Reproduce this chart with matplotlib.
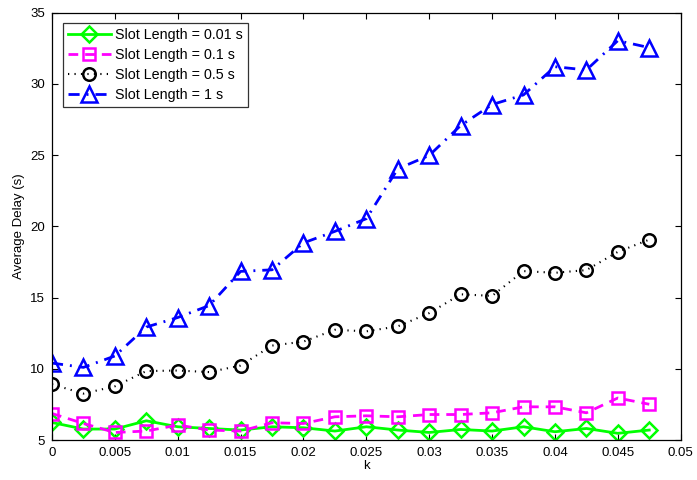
import numpy as np
import matplotlib
matplotlib.use("Agg")
import matplotlib.pyplot as plt

plt.rcParams['font.family'] = ['Liberation Sans', 'DejaVu Sans']

k = [0, 0.0025, 0.005, 0.0075, 0.01, 0.0125, 0.015, 0.0175, 0.02, 0.0225,
     0.025, 0.0275, 0.03, 0.0325, 0.035, 0.0375, 0.04, 0.0425, 0.045, 0.0475]

delay_001 = [6.23, 5.77, 5.77, 6.35, 5.93, 5.81, 5.70, 5.93, 5.86, 5.63,
             5.93, 5.70, 5.53, 5.74, 5.63, 5.93, 5.58, 5.81, 5.47, 5.70]
delay_01 = [6.86, 6.16, 5.53, 5.63, 6.05, 5.70, 5.63, 6.21, 6.16, 6.63,
            6.70, 6.63, 6.79, 6.79, 6.91, 7.33, 7.33, 6.91, 7.95, 7.51]
delay_05 = [8.91, 8.26, 8.77, 9.84, 9.88, 9.77, 10.23, 11.63, 11.91, 12.74,
            12.63, 12.98, 13.91, 15.23, 15.12, 16.86, 16.74, 16.93, 18.21, 19.07]
delay_1 = [10.4, 10.1, 10.9, 12.93, 13.6, 14.44, 16.84, 16.95, 18.84, 19.65,
           20.54, 24.04, 24.98, 27.08, 28.55, 29.23, 31.21, 30.98, 33.04, 32.55]

labels = ['Slot Length = 0.01 s', 'Slot Length = 0.1 s',
          'Slot Length = 0.5 s', 'Slot Length = 1 s']

xticks = [0, 0.005, 0.01, 0.015, 0.02, 0.025, 0.03, 0.035, 0.04, 0.045, 0.05]
xticklabels = ['0', '0.005', '0.01', '0.015', '0.02', '0.025', '0.03',
               '0.035', '0.04', '0.045', '0.05']
yticks = [5, 10, 15, 20, 25, 30, 35]

fig = plt.figure(figsize=(6.97, 4.8), dpi=100)
ax = fig.add_axes([0.0746, 0.0833, 0.902, 0.8902])

common = dict(markerfacecolor='none', markeredgewidth=1.8)
ax.plot(k, delay_001, color='#00ff00', linestyle='-', linewidth=2,
        marker='D', markersize=8.5, label=labels[0], **common)
ax.plot(k, delay_01, color='#ff00ff', linestyle=(0, (3.5, 2.5)), linewidth=2,
        marker='s', markersize=8, label=labels[1], **common)
ax.plot(k, delay_05, color='black', linestyle=(0, (0.6, 2.5)), linewidth=1.5,
        marker='o', markersize=9, label=labels[2], **common)
ax.plot(k, delay_1, color='#0000ff', linestyle=(0, (4, 2.5, 0.7, 2.5)), linewidth=2,
        marker='^', markersize=11, label=labels[3], **common)

ax.set_xlim(0, 0.05)
ax.set_ylim(5, 35)
ax.set_xticks(xticks)
ax.set_xticklabels(xticklabels)
ax.set_yticks(yticks)
ax.tick_params(direction='in', top=True, right=True, labelsize=9.5,
               length=4, width=0.8, pad=5)
for s in ax.spines.values():
    s.set_linewidth(0.9)

ax.set_xlabel('k', fontsize=9.5, labelpad=1)
ax.set_ylabel('Average Delay (s)', fontsize=9.5, labelpad=4)

leg = ax.legend(loc='upper left', fontsize=10.3, frameon=True, fancybox=False,
                edgecolor='black', handlelength=3.0, borderaxespad=0.75,
                labelspacing=0.4, handletextpad=0.3, borderpad=0.35)
leg.get_frame().set_linewidth(0.9)

fig.savefig('out.png', dpi=100)
